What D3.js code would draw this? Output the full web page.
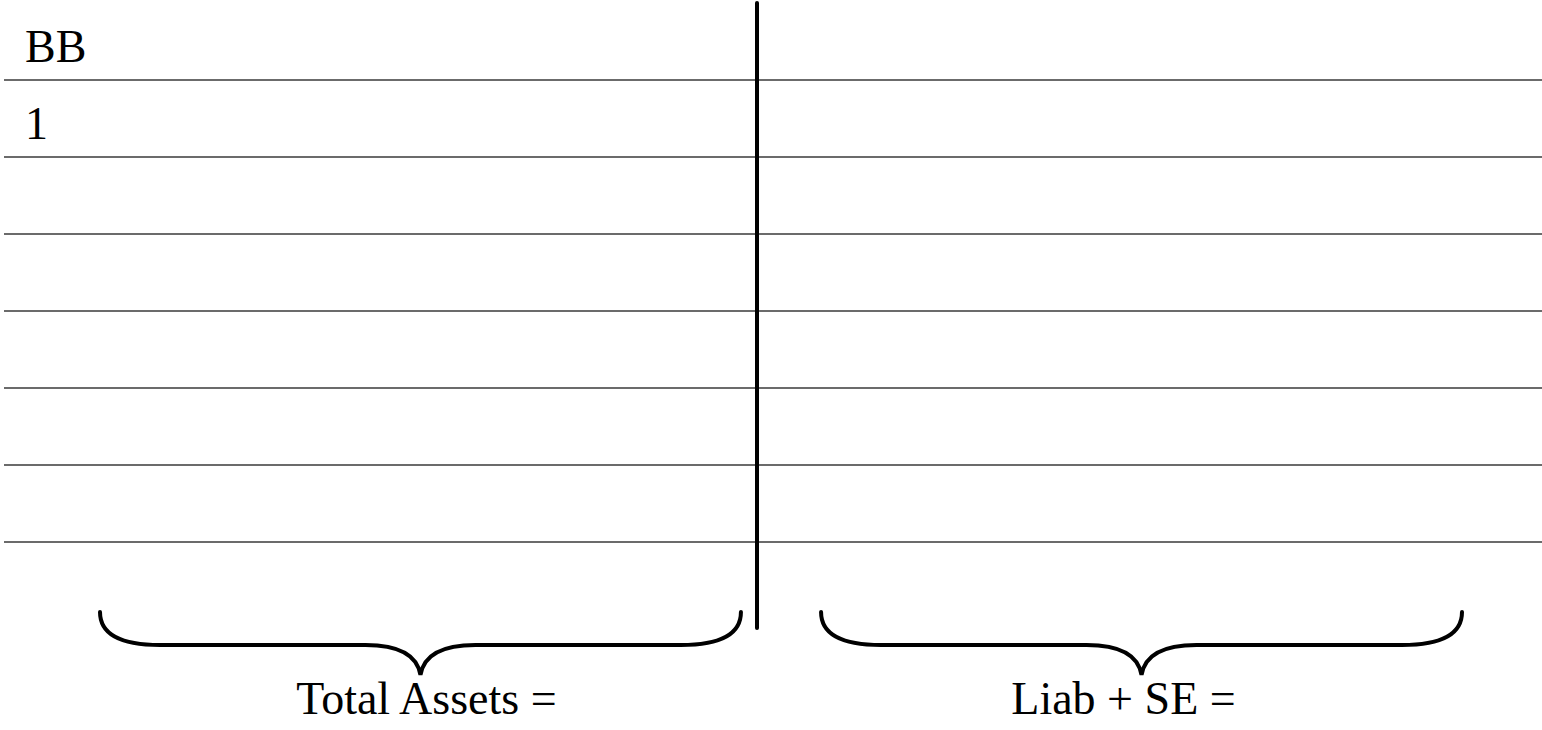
<!DOCTYPE html>
<html>
<head>
<meta charset="utf-8">
<script src="https://cdn.jsdelivr.net/npm/d3@7"></script>
<style>
  body { margin: 0; background: #fff; }
  svg { display: block; }
</style>
</head>
<body>
<div id="chart"></div>
<script>
// row labels down the left column (blank rows stay empty)
const rowLabels = ['BB', '1', '', '', '', '', ''];
// the two sides of the T-account
const sides = ['assets', 'liabSE'];
const sideLabels = ['Total Assets =', 'Liab + SE ='];

const width = 1542, height = 730;

const svg = d3.select('#chart')
    .append('svg')
    .attr('width', width)
    .attr('height', height);

// row i spans y(i) .. y(i+1)
let y = d3.scaleLinear()
    .domain([0, rowLabels.length])
    .range([3, 542]);

// each side gets a band, braces sit inside it
let x = d3.scaleBand()
    .domain(sides)
    .range([100, 1462])
    .paddingInner(80 / 720);

// horizontal rules under every row
svg.selectAll('line.rule')
    .data(rowLabels)
    .enter()
    .append('line')
    .attr('class', 'rule')
    .attr('x1', 4)
    .attr('x2', width)
    .attr('y1', (d, i) => y(i + 1))
    .attr('y2', (d, i) => y(i + 1))
    .attr('stroke', '#3a3a3a')
    .attr('stroke-width', 1.6);

// row text
svg.selectAll('text.row')
    .data(rowLabels)
    .enter()
    .append('text')
    .attr('class', 'row')
    .attr('x', 25)
    .attr('y', (d, i) => y(i + 1) - 18)
    .attr('font-family', '"Liberation Serif", "Times New Roman", serif')
    .attr('font-size', 46)
    .attr('fill', '#000')
    .text(d => d);

// the T's stem
svg.append('line')
    .attr('x1', 757)
    .attr('x2', 757)
    .attr('y1', 3)
    .attr('y2', 628)
    .attr('stroke', '#000')
    .attr('stroke-width', 4)
    .attr('stroke-linecap', 'round');

// curly brace under each side
function bracePath (x0, x1) {
    let top = 612, flat = 645, tip = 675;
    let mid = (x0 + x1) / 2;
    let p = d3.path();
    p.moveTo(x0, top);
    p.quadraticCurveTo(x0, flat, x0 + 60, flat);
    p.lineTo(mid - 55, flat);
    p.quadraticCurveTo(mid - 5, flat, mid, tip);
    p.quadraticCurveTo(mid + 5, flat, mid + 55, flat);
    p.lineTo(x1 - 60, flat);
    p.quadraticCurveTo(x1, flat, x1, top);
    return p.toString();
}

svg.selectAll('path.brace')
    .data(sides)
    .enter()
    .append('path')
    .attr('class', 'brace')
    .attr('d', d => bracePath(x(d), x(d) + x.bandwidth()))
    .attr('fill', 'none')
    .attr('stroke', '#000')
    .attr('stroke-width', 4)
    .attr('stroke-linecap', 'round');

// labels under the braces (nudged a touch like the original)
let nudge = [6, -18];
svg.selectAll('text.side')
    .data(sideLabels)
    .enter()
    .append('text')
    .attr('class', 'side')
    .attr('x', (d, i) => x(sides[i]) + x.bandwidth() / 2 + nudge[i])
    .attr('y', 714)
    .attr('text-anchor', 'middle')
    .attr('font-family', '"Liberation Serif", "Times New Roman", serif')
    .attr('font-size', 46)
    .attr('fill', '#000')
    .text(d => d);
</script>
</body>
</html>
